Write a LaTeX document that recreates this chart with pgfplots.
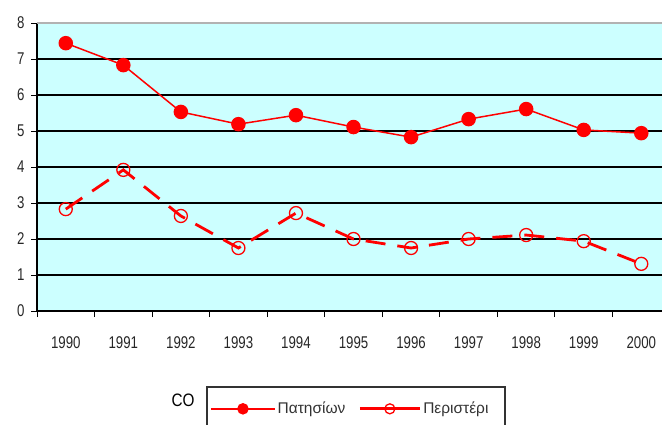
\documentclass[border=0pt]{standalone}
\usepackage{fontspec}
\setmainfont{Liberation Sans}[FakeStretch=0.85]
\newfontfamily\tickfont{Liberation Sans}[FakeStretch=0.78]
\newfontfamily\legfont{Liberation Sans}
\usepackage{pgfplots}
\pgfplotsset{compat=1.18}
\pgfplotsset{
  thinlegend/.style={legend image code/.code={\draw[mark repeat=2,mark phase=2,##1,solid,line width=1.5pt] plot coordinates {(0pt,0pt) (32pt,0pt) (64pt,0pt)};}},
  thicklegend/.style={legend image code/.code={\draw[mark repeat=2,mark phase=2,##1,solid,line width=2.8pt,every mark/.append style={fill=white,line width=1.3pt}] plot coordinates {(0pt,0pt) (30pt,0pt) (60pt,0pt)};}},
}
\definecolor{bgc}{HTML}{CCFFFF}
\begin{document}
\begin{tikzpicture}[x=1pt,y=1pt]
\path[use as bounding box] (0,0) rectangle (662,424);
\begin{axis}[
  at={(37pt,113pt)}, anchor=south west,
  scale only axis, width=625pt, height=288pt,
  xmin=-0.5, xmax=10.36, ymin=0, ymax=8,
  axis background/.style={fill=bgc},
  axis lines=left, axis line style={-, black, line width=1.3pt},
  clip=false,
  tick align=outside,
  major tick length=6pt, minor tick length=6pt,
  ytick={0,...,8}, ymajorgrids,
  major grid style={black, line width=1.3pt},
  xtick={0,...,10},
  xticklabels={1990,1991,1992,1993,1994,1995,1996,1997,1998,1999,2000},
  minor xtick={-0.5,0.5,...,9.5},
  major x tick style={draw=none},
  minor x tick style={black, line width=1pt},
  major y tick style={black, line width=1pt},
  ticklabel style={font=\tickfont\fontsize{17}{17}\selectfont, text=black!85},
  xticklabel style={yshift=-16pt},
  yticklabel style={xshift=-3pt},
  /pgf/number format/assume math mode=true,
  legend columns=2,
  legend style={at={(rel axis cs:0.272,-0.264)}, anchor=north west,
    draw=none, inner ysep=13pt, inner xsep=3pt,
    font=\legfont\fontsize{15.5}{15.5}\selectfont, text=black!80,
    /tikz/every even column/.append style={column sep=11pt}},
  legend image post style={mark size=5pt},
]
\addplot[red, line width=1.5pt, mark=*, mark size=6.5pt, mark options={solid, fill=red}, thinlegend]
coordinates {(0,7.44) (1,6.83) (2,5.53) (3,5.19) (4,5.44) (5,5.11) (6,4.83) (7,5.33) (8,5.61) (9,5.03) (10,4.94)};
\addlegendentry{Πατησίων}
\addplot[red, line width=2.8pt, dash pattern=on 20pt off 12pt, mark=o, mark size=6.5pt, mark options={solid, line width=1.3pt}, thicklegend]
coordinates {(0,2.83) (1,3.92) (2,2.64) (3,1.75) (4,2.72) (5,2.0) (6,1.75) (7,2.0) (8,2.11) (9,1.94) (10,1.31)};
\addlegendentry{Περιστέρι}
\end{axis}
\draw[gray!60, line width=1.5pt] (37,401) -- (662,401);
\draw[black!80, line width=1.5pt] (207,-5) -- (207,37) -- (505,37) -- (505,-5);
\node[font=\fontsize{18}{18}\selectfont] at (183,24) {CO};
\end{tikzpicture}
\end{document}
